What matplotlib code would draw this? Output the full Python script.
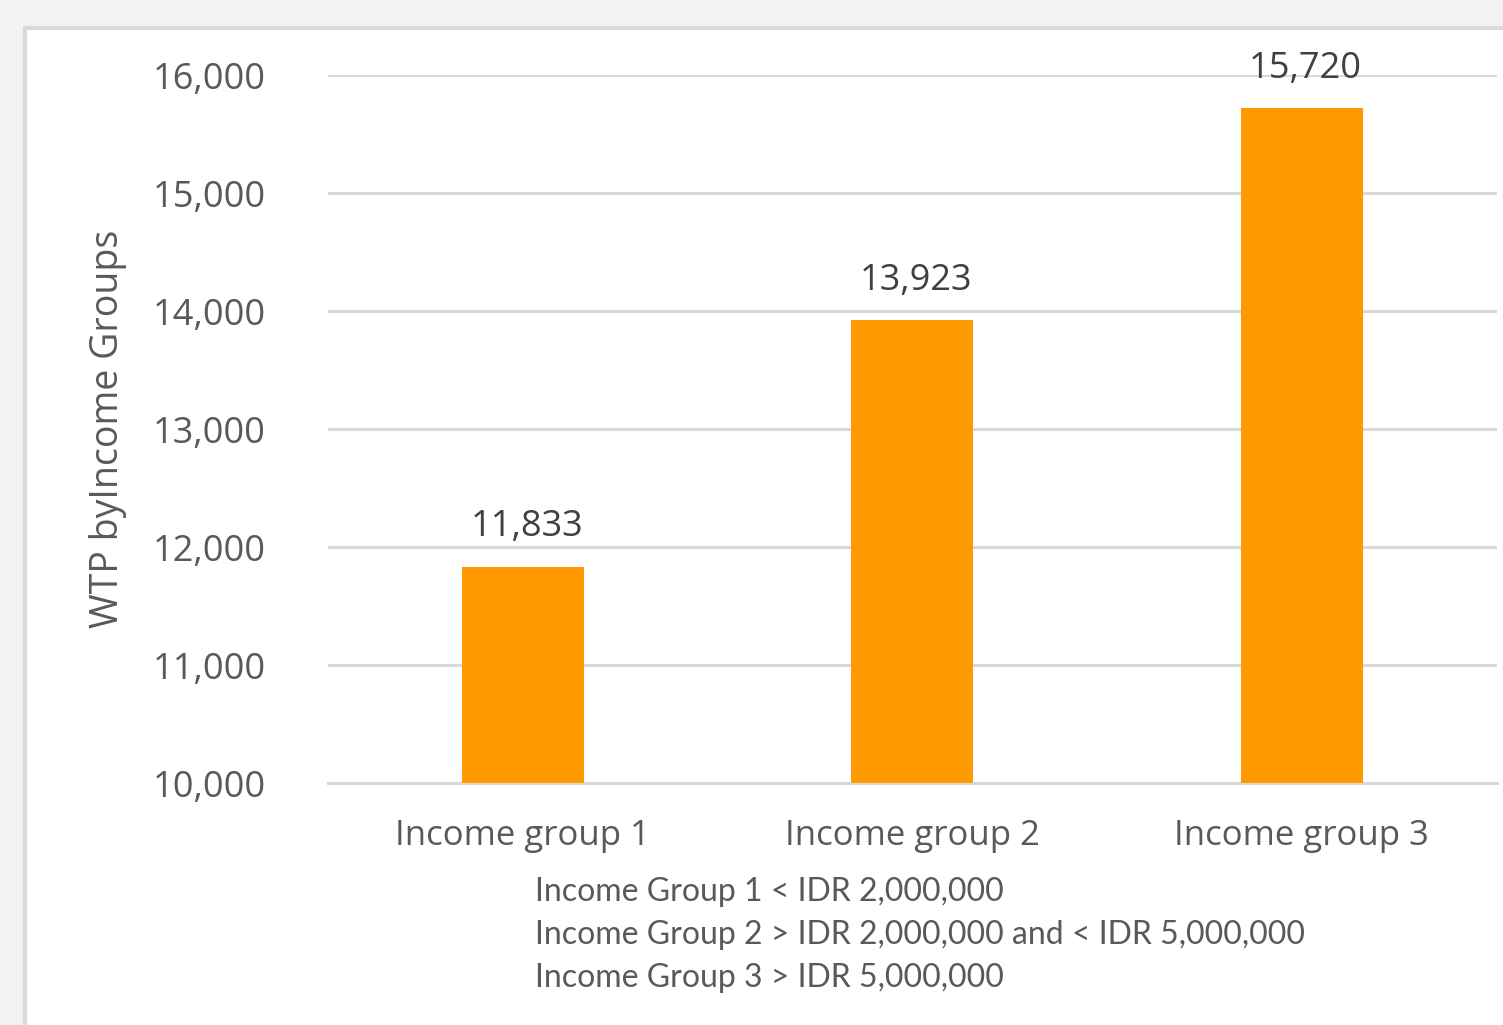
import numpy as np
import matplotlib.pyplot as plt
from matplotlib.patches import Rectangle
from matplotlib.ticker import FuncFormatter

# data
groups = ['Income group 1', 'Income group 2', 'Income group 3']
wtp = [11833, 13923, 15720]
notes = ['Income Group 1 < IDR 2,000,000',
         'Income Group 2 > IDR 2,000,000 and < IDR 5,000,000',
         'Income Group 3 > IDR 5,000,000']

W, H = 1503, 1025
fig = plt.figure(figsize=(W / 100, H / 100), dpi=100)
fig.patch.set_facecolor('#f2f2f2')

# white chart panel with light grey border
panel = Rectangle((25 / W, -0.05), 1.1, 1 - 28 / H + 0.05, transform=fig.transFigure,
                  facecolor='white', edgecolor='#d9d9d9', lw=3, zorder=-10)
fig.patches.append(panel)

ax = fig.add_axes([328 / W, 1 - 783 / H, (1496.5 - 328) / W, (783 - 75) / H], zorder=1)
ax.set_facecolor('none')

x = np.arange(len(groups))
bars = ax.bar(x, wtp, width=0.313, color='#ff9900', zorder=3)

ax.set_xlim(-0.5, 2.5)
ax.set_ylim(10000, 16000)
ax.set_yticks(np.arange(10000, 16001, 1000))
ax.yaxis.set_major_formatter(FuncFormatter(lambda v, p: f'{v:,.0f}'))
ax.grid(axis='y', color='#d9d9d9', lw=2.2, zorder=1)
ax.set_axisbelow(True)
for s in ['top', 'right', 'left']:
    ax.spines[s].set_visible(False)
ax.spines['bottom'].set_color('#d9d9d9')
ax.spines['bottom'].set_linewidth(2.2)
ax.tick_params(axis='both', length=0)
ax.tick_params(axis='y', pad=45, labelsize=26, labelcolor='#595959')
ax.tick_params(axis='x', pad=26, labelsize=25, labelcolor='#595959')
ax.set_xticks(x)
ax.set_xticklabels(groups)
for lbl in ax.get_xticklabels() + ax.get_yticklabels():
    lbl.set_fontfamily('Open Sans')

ax.set_ylabel('WTP byIncome Groups', fontsize=27, color='#595959',
              family='Open Sans', va='center')
ax.yaxis.set_label_coords(-(328 - 108) / (1496.5 - 328), 0.5)

for xi, v in zip(x, wtp):
    ax.text(xi + 0.01, v + 180, f'{v:,}', ha='center', va='bottom',
            fontsize=26, color='#404040', family='Open Sans')

for i, t in enumerate(notes):
    fig.text(535 / W, 1 - (892 + 43 * i) / H, t, ha='left', va='center',
             fontsize=23, color='#595959', family='Lato')

fig.savefig('out.png', dpi=100, facecolor=fig.get_facecolor())
